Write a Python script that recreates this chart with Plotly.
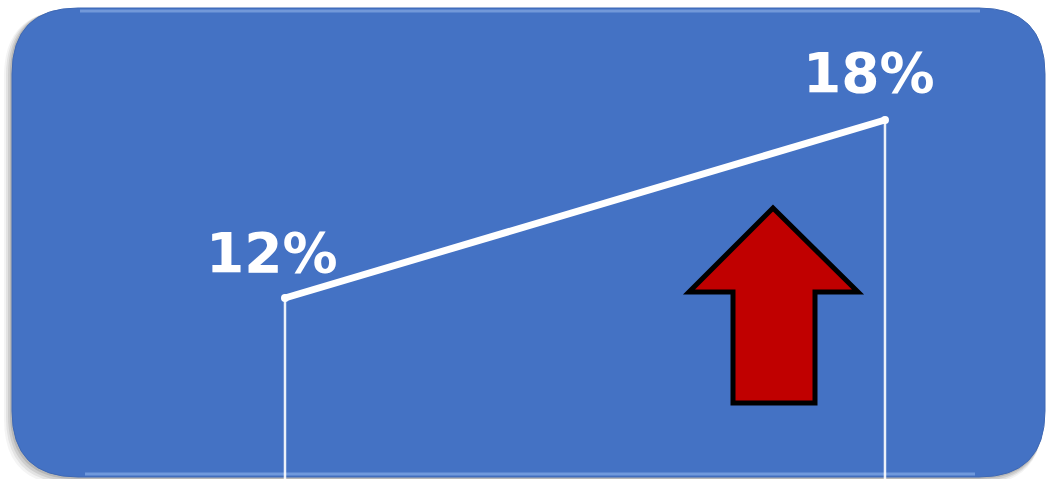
import plotly.graph_objects as go

# ---- data ----
categories = ["Before", "After"]
values = [12, 18]
labels = ["12%", "18%"]

W, H = 1048, 479
X_RANGE = [-0.475, 1.2717]
Y_RANGE = [5.899, 22.045]


def px(x):
    return x / W


def py(y):
    return 1 - y / H


def rrect(l, t, r, b, rad):
    pts = [
        f"M {px(l + rad)},{py(t)}",
        f"L {px(r - rad)},{py(t)}",
        f"Q {px(r)},{py(t)} {px(r)},{py(t + rad)}",
        f"L {px(r)},{py(b - rad)}",
        f"Q {px(r)},{py(b)} {px(r - rad)},{py(b)}",
        f"L {px(l + rad)},{py(b)}",
        f"Q {px(l)},{py(b)} {px(l)},{py(b - rad)}",
        f"L {px(l)},{py(t + rad)}",
        f"Q {px(l)},{py(t)} {px(l + rad)},{py(t)}",
        "Z",
    ]
    return " ".join(pts)


shapes = []
# soft shadow
for off, op in [(8, 0.06), (6, 0.09), (4, 0.12), (2, 0.16)]:
    shapes.append(dict(type="path", xref="paper", yref="paper", layer="below",
                       path=rrect(12 - off, 8 + off * 0.3, 1045 - off * 0.3, 477 + off, 66),
                       fillcolor=f"rgba(60,60,60,{op})", line=dict(width=0)))
# main panel
shapes.append(dict(type="path", xref="paper", yref="paper", layer="below",
                   path=rrect(12, 8, 1045, 477, 66),
                   fillcolor="#4472C4", line=dict(color="#3f69b5", width=1)))
# top highlight
shapes.append(dict(type="line", xref="paper", yref="paper", layer="below",
                   x0=px(80), x1=px(980), y0=py(11), y1=py(11),
                   line=dict(color="rgba(170,200,245,0.45)", width=3)))
# bottom highlight
shapes.append(dict(type="line", xref="paper", yref="paper", layer="below",
                   x0=px(85), x1=px(975), y0=py(474), y1=py(474),
                   line=dict(color="rgba(150,185,240,0.55)", width=3)))

# red up arrow
arrow = [(773, 208), (858, 292), (815, 292), (815, 403), (733, 403), (733, 292), (689, 292)]
apath = "M " + " L ".join(f"{px(x)},{py(y)}" for x, y in arrow) + " Z"
shapes.append(dict(type="path", xref="paper", yref="paper", layer="above",
                   path=apath, fillcolor="#C00000", line=dict(color="black", width=5)))

fig = go.Figure()
xs = list(range(len(categories)))

# vertical drop lines
for xi, v in zip(xs, values):
    fig.add_trace(go.Scatter(x=[xi, xi], y=[v, Y_RANGE[0]], mode="lines",
                             line=dict(color="rgba(255,255,255,0.9)", width=2.5),
                             hoverinfo="skip", showlegend=False))

# main line
fig.add_trace(go.Scatter(x=xs, y=values, mode="lines+markers",
                         line=dict(color="white", width=7),
                         marker=dict(color="white", size=8),
                         showlegend=False))

annotations = []
for xi, v, lab, shift, ys in zip(xs, values, labels, [-13, -16], [11, 13]):
    annotations.append(dict(x=xi, y=v, xref="x", yref="y", text=lab, showarrow=False,
                            xanchor="center", yanchor="bottom", xshift=shift, yshift=ys,
                            font=dict(family="DejaVu Sans", size=55, color="white",
                                      weight="bold")))

fig.update_layout(
    width=W, height=H,
    margin=dict(l=0, r=0, t=0, b=0),
    paper_bgcolor="white", plot_bgcolor="rgba(0,0,0,0)",
    xaxis=dict(range=X_RANGE, visible=False, fixedrange=True),
    yaxis=dict(range=Y_RANGE, visible=False, fixedrange=True),
    shapes=shapes, annotations=annotations,
)

fig.write_html("out.html", config={"displayModeBar": False},
               post_script="document.body.style.margin='0';document.body.style.overflow='hidden';")
